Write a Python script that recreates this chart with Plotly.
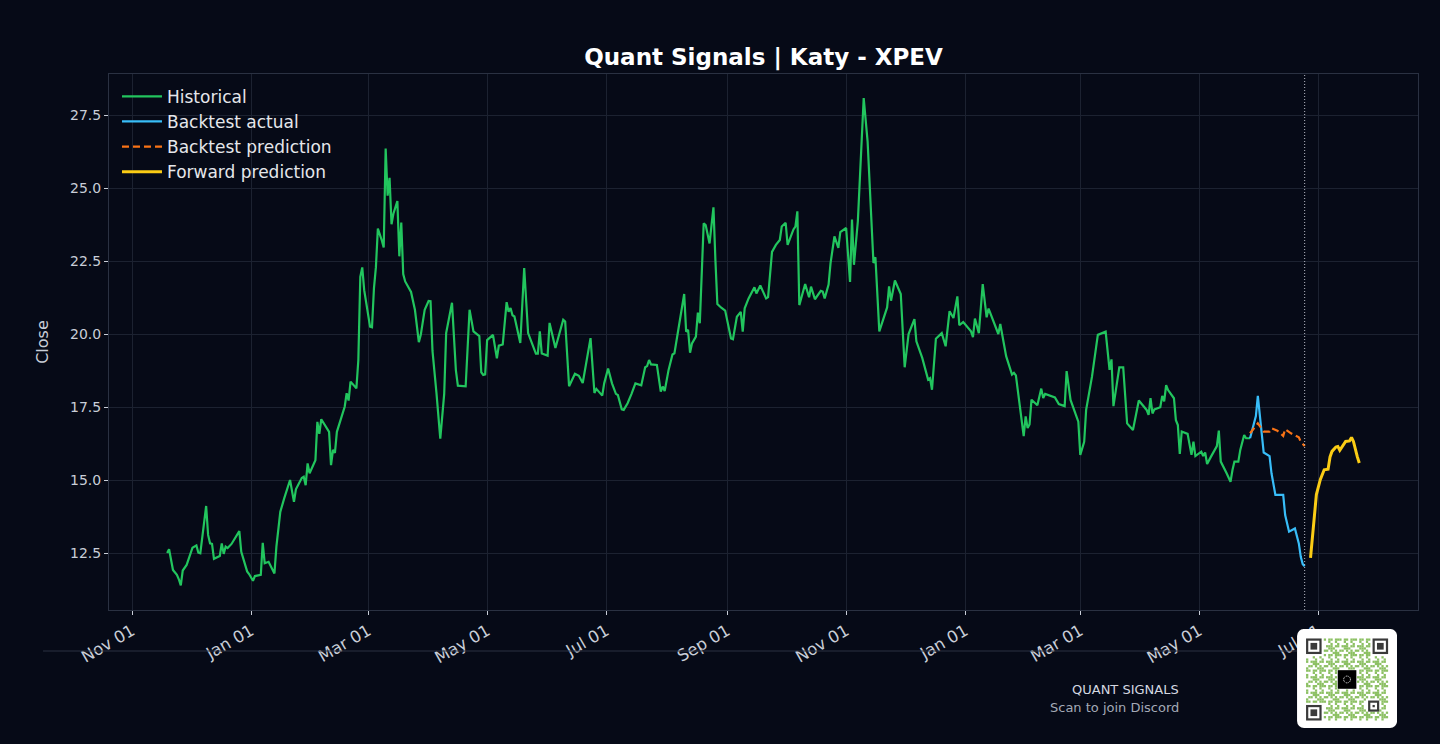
import base64
import pandas as pd
import plotly.graph_objects as go

# ---------------- data ----------------
start_date = "2023-11-01"  # day offsets below are counted from this date

hist_day = [18, 19, 21, 23, 24, 25, 26, 28, 31, 33, 34, 35, 38, 39, 40, 41, 42, 45, 46, 47, 48, 49, 51, 55, 56, 59, 60, 62, 63, 66,
            67, 68, 70, 73, 74, 76, 78, 81, 83, 84, 87, 88, 89, 90, 91, 94, 95, 96, 97, 101, 102, 103, 104, 105, 109, 110, 111, 112, 115, 116,
            117, 118, 119, 122, 123, 124, 125, 126, 128, 129, 130, 131, 132, 133, 134, 136, 137, 138, 139, 140, 143, 145, 147, 148, 150, 152, 153, 154, 156, 158,
            160, 161, 164, 166, 167, 171, 173, 174, 175, 178, 179, 180, 181, 182, 185, 187, 188, 190, 192, 193, 194, 195, 196, 199, 201, 203, 205, 207, 208, 209,
            210, 213, 214, 217, 221, 222, 224, 227, 229, 231, 235, 237, 238, 241, 242, 244, 246, 248, 249, 251, 252, 254, 256, 258, 261, 263, 264, 265, 266, 269,
            271, 272, 273, 275, 277, 278, 283, 284, 285, 286, 287, 289, 290, 291, 293, 294, 296, 298, 299, 300, 302, 304, 307, 308, 310, 312, 313, 314, 316, 319,
            320, 322, 325, 326, 328, 330, 332, 333, 335, 336, 339, 340, 341, 342, 345, 347, 348, 350, 353, 354, 355, 357, 358, 360, 362, 363, 366, 368, 369, 370,
            372, 375, 377, 378, 380, 381, 383, 387, 388, 389, 391, 394, 396, 398, 401, 402, 405, 408, 409, 410, 412, 415, 417, 419, 421, 423, 424, 426, 430, 431,
            432, 434, 436, 438, 439, 444, 445, 448, 451, 452, 453, 457, 458, 459, 460, 461, 464, 466, 467, 468, 473, 475, 478, 479, 481, 485, 486, 488, 489, 492,
            495, 499, 501, 502, 503, 506, 508, 510, 513, 516, 520, 521, 522, 523, 524, 527, 528, 529, 530, 531, 534, 535, 536, 537, 538, 541, 543, 544, 545, 548,
            549, 550, 551, 553, 556, 557, 558, 561, 563, 564, 565, 567, 568, 570, 571, 573]
hist_close = [12.5, 12.63, 11.92, 11.75, 11.6, 11.39, 11.9, 12.09, 12.68, 12.76, 12.51, 12.49, 14.11, 13.12, 12.83, 12.81, 12.3, 12.4, 12.83, 12.47, 12.72, 12.67, 12.81, 13.25, 12.54, 11.87, 11.78, 11.55, 11.71, 11.75,
              12.85, 12.15, 12.2, 11.8, 12.72, 13.91, 14.37, 15.0, 14.25, 14.68, 15.07, 15.11, 14.82, 15.57, 15.23, 15.68, 16.99, 16.58, 17.08, 16.65, 15.51, 16.03, 15.93, 16.65, 17.51, 17.97, 17.72, 18.37, 18.14, 19.11,
              21.96, 22.28, 21.5, 20.25, 20.23, 21.56, 22.29, 23.61, 23.21, 22.96, 26.35, 24.74, 25.35, 23.76, 24.13, 24.55, 22.66, 23.82, 22.05, 21.8, 21.44, 20.83, 19.72, 19.97, 20.83, 21.13, 21.12, 19.42, 18.01, 16.42,
              17.95, 20.03, 21.07, 18.75, 18.23, 18.21, 20.83, 20.46, 20.09, 19.93, 18.69, 18.6, 18.62, 19.79, 19.97, 19.17, 19.6, 19.64, 21.09, 20.76, 20.89, 20.64, 20.6, 19.69, 22.26, 20.03, 19.69, 19.33, 19.33, 20.09,
              19.33, 19.26, 20.38, 19.52, 20.49, 20.43, 18.21, 18.64, 18.57, 18.32, 19.86, 17.98, 18.12, 17.89, 18.31, 18.82, 18.31, 17.95, 17.91, 17.42, 17.4, 17.63, 17.95, 18.31, 18.24, 18.86, 18.9, 19.11, 18.96, 18.94,
              18.03, 18.2, 18.05, 18.77, 19.3, 19.34, 21.37, 20.08, 20.14, 19.36, 19.68, 19.91, 20.73, 20.37, 23.79, 23.73, 23.1, 24.34, 22.53, 21.03, 20.9, 20.8, 19.85, 19.82, 20.59, 20.76, 20.08, 20.88, 21.22, 21.6,
              21.39, 21.66, 21.22, 21.26, 22.81, 23.05, 23.22, 23.68, 23.81, 23.05, 23.58, 23.68, 24.2, 20.99, 21.71, 21.26, 21.62, 21.19, 21.48, 21.45, 21.22, 21.69, 22.42, 23.34, 22.95, 23.49, 23.63, 21.78, 23.92, 22.37,
              23.86, 28.08, 26.6, 25.11, 22.43, 22.63, 20.09, 20.91, 21.63, 21.14, 21.83, 21.37, 18.86, 20.0, 20.51, 19.75, 19.18, 18.44, 18.49, 18.09, 19.84, 20.03, 19.58, 20.78, 20.55, 21.29, 20.3, 20.41, 20.09, 19.89,
              20.53, 20.03, 21.71, 20.57, 20.87, 20.0, 20.34, 19.24, 18.61, 18.67, 18.58, 16.5, 17.18, 16.78, 16.9, 17.75, 17.56, 18.13, 17.81, 17.95, 17.83, 17.6, 17.53, 18.73, 17.74, 17.0, 15.86, 16.31, 17.4, 18.54,
              19.97, 20.08, 18.77, 19.13, 17.53, 18.86, 18.86, 16.94, 16.71, 17.72, 17.4, 17.23, 17.8, 17.28, 17.42, 17.49, 17.88, 17.69, 18.25, 18.08, 17.8, 17.05, 16.88, 15.89, 16.66, 16.58, 15.86, 16.31, 15.82, 15.97,
              15.82, 15.94, 15.55, 15.8, 16.16, 16.69, 15.63, 15.23, 14.94, 15.34, 15.63, 15.63, 16.03, 16.54, 16.43, 16.43]

bt_day = [573, 576, 577, 578, 579, 580, 583, 584, 586, 590, 591, 593, 596, 598, 599, 600, 601]
bt_actual = [16.43, 17.19, 17.88, 17.28, 16.71, 15.94, 15.82, 15.23, 14.49, 14.49, 13.8, 13.23, 13.34, 12.83, 12.37, 12.12, 12.05]

bp_day = [573, 577, 580, 583, 584, 587, 590, 591, 594, 598, 599, 601]
bt_pred = [16.6, 16.94, 16.66, 16.66, 16.77, 16.69, 16.51, 16.74, 16.6, 16.46, 16.31, 16.16]

fw_day = [604, 606, 607, 609, 611, 613, 614, 615, 617, 618, 619, 622, 624, 625, 626, 628, 629]
fw_pred = [12.33, 13.75, 14.5, 15.01, 15.35, 15.37, 15.79, 15.98, 16.13, 16.15, 16.02, 16.32, 16.34, 16.46, 16.32, 15.79, 15.58]

y_ticks = [12.5, 15.0, 17.5, 20.0, 22.5, 25.0, 27.5]
title_text = "Quant Signals | Katy - XPEV"
footer_lines = ["QUANT SIGNALS", "Scan to join Discord"]

# ---------------- helpers ----------------
t0 = pd.Timestamp(start_date)
to_dates = lambda days: [t0 + pd.Timedelta(days=d) for d in days]
hist_x, bt_x, bp_x, fw_x = map(to_dates, (hist_day, bt_day, bp_day, fw_day))
split_x = bt_x[-1]

BG = "#060a17"
GRID = "#1c2231"
SPINE = "#2a3142"
TXT = "#c9ced8"
FONT = "DejaVu Sans"

fig = go.Figure()
fig.add_trace(go.Scatter(x=hist_x, y=hist_close, mode="lines", name="Historical",
                         line=dict(color="#22c55e", width=2.2)))
fig.add_trace(go.Scatter(x=bt_x, y=bt_actual, mode="lines", name="Backtest actual",
                         line=dict(color="#38bdf8", width=2.2)))
fig.add_trace(go.Scatter(x=bp_x, y=bt_pred, mode="lines", name="Backtest prediction",
                         line=dict(color="#f97316", width=2.2, dash="7px,4px")))
fig.add_trace(go.Scatter(x=fw_x, y=fw_pred, mode="lines", name="Forward prediction",
                         line=dict(color="#facc15", width=3)))

fig.add_shape(type="line", xref="x", yref="paper", x0=split_x, x1=split_x, y0=0, y1=1,
              line=dict(color="rgba(215,219,228,0.85)", width=1, dash="1px,2px"))

# footer separator (stops where the QR badge sits)
fig.add_shape(type="line", xref="paper", yref="paper", x0=-0.0504, x1=0.9076, y0=-0.0765, y1=-0.0765,
              line=dict(color=SPINE, width=1))

fig.add_annotation(text=footer_lines[0], xref="paper", yref="paper", x=0.819, y=-0.1474,
                   xanchor="right", yanchor="middle", showarrow=False,
                   font=dict(family=FONT, size=13, color="#d4d8e0"))
fig.add_annotation(text=footer_lines[1], xref="paper", yref="paper", x=0.819, y=-0.1828,
                   xanchor="right", yanchor="middle", showarrow=False,
                   font=dict(family=FONT, size=13, color="#a3a9b6"))

# ---------------- QR badge (decorative) ----------------
N = 37
m = 82.0 / N
ox, oy = 9.0, 9.5
parts = ['<svg xmlns="http://www.w3.org/2000/svg" width="100" height="99" viewBox="0 0 100 99">',
         '<rect x="0" y="0" width="100" height="99" rx="7" ry="7" fill="#ffffff"/>']


def cell(r, c, w=1, h=1, fill="#8cc063"):
    parts.append('<rect x="%.2f" y="%.2f" width="%.2f" height="%.2f" fill="%s"/>'
                 % (ox + c * m, oy + r * m, w * m + 0.05, h * m + 0.05, fill))


def reserved(r, c):
    if (r < 8 and c < 8) or (r < 8 and c >= N - 8) or (r >= N - 8 and c < 8):
        return True
    if 14 <= r <= 22 and 14 <= c <= 22:
        return True
    if 27 <= r <= 32 and 27 <= c <= 32:
        return True
    return False


for r in range(N):
    for c in range(N):
        if reserved(r, c):
            continue
        if (r * r * 3 + c * 7 + r * c * 5 + c * c + r) % 7 < 3:
            cell(r, c)

for (r0, c0) in [(0, 0), (0, N - 7), (N - 7, 0)]:
    cell(r0, c0, 7, 7, "#3a3a3a")
    cell(r0 + 1, c0 + 1, 5, 5, "#ffffff")
    cell(r0 + 2, c0 + 2, 3, 3, "#3a3a3a")

cell(28, 28, 5, 5, "#3a3a3a")
cell(29, 29, 3, 3, "#ffffff")
cell(30, 30, 1, 1, "#3a3a3a")

parts.append('<rect x="%.2f" y="%.2f" width="%.2f" height="%.2f" fill="#000000"/>'
             % (ox + 14.3 * m, oy + 14.3 * m, 8.4 * m, 8.4 * m))
cx, cy = ox + 18.5 * m, oy + 18.5 * m
parts.append('<circle cx="%.2f" cy="%.2f" r="3.4" fill="none" stroke="#ffffff" stroke-width="0.9" stroke-dasharray="1,0.8"/>' % (cx, cy))
parts.append('</svg>')
qr_uri = "data:image/svg+xml;base64," + base64.b64encode("".join(parts).encode()).decode()

fig.add_layout_image(source=qr_uri, xref="paper", yref="paper", x=0.9076, y=-0.0354,
                     sizex=0.0764, sizey=0.1847, xanchor="left", yanchor="top",
                     sizing="stretch", layer="above")

# ---------------- layout ----------------
axis_common = dict(showgrid=True, gridcolor=GRID, gridwidth=1, zeroline=False,
                   showline=True, linecolor=SPINE, linewidth=1, mirror=True,
                   ticks="outside", ticklen=4, tickwidth=1, tickcolor=TXT)

fig.update_layout(
    width=1440, height=744,
    margin=dict(l=109, r=22, t=74, b=134),
    paper_bgcolor=BG, plot_bgcolor=BG,
    font=dict(family=FONT, color=TXT),
    title=dict(text="<b>" + title_text + "</b>", x=0.5, xref="paper", xanchor="center",
               y=1 - 57 / 744, yanchor="middle",
               font=dict(family=FONT, size=23, color="#ffffff")),
    showlegend=True,
    legend=dict(x=0.0061, y=0.991, xanchor="left", yanchor="top", bgcolor="rgba(0,0,0,0)",
                borderwidth=0, font=dict(family=FONT, size=17, color="#e5e7eb"),
                itemwidth=40, tracegroupgap=0),
    xaxis=dict(type="date", range=["2023-10-20 05:00", "2025-08-21 02:00"],
               tick0=start_date, dtick="M2", tickformat="%b %d", tickangle=-30,
               tickfont=dict(family=FONT, size=16.5, color=TXT),
               **axis_common),
    yaxis=dict(range=[10.548, 28.904], tickvals=y_ticks, tickformat=".1f",
               tickfont=dict(family=FONT, size=14, color=TXT),
               title=dict(text="Close", standoff=17, font=dict(family=FONT, size=16, color=TXT)),
               **axis_common),
)

fig.write_html("out.html")
